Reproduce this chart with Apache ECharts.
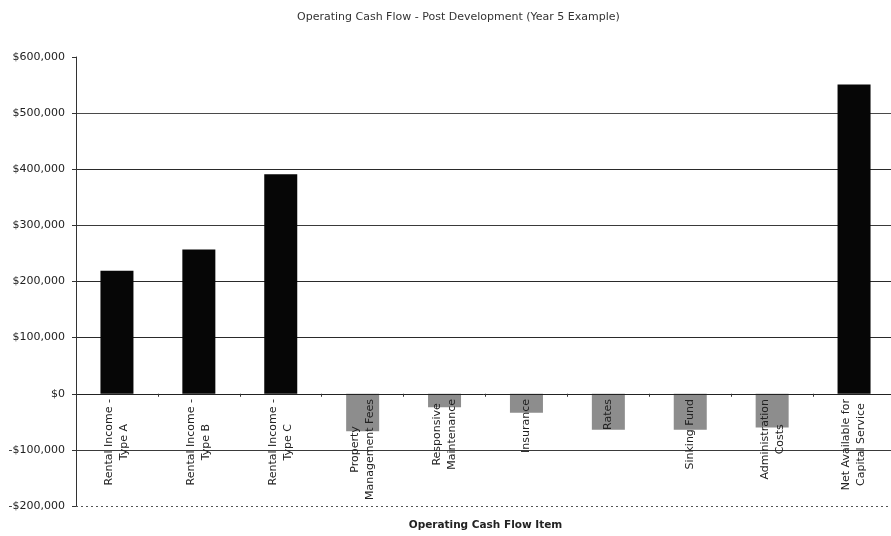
<!DOCTYPE html>
<html>
<head>
<meta charset="utf-8">
<title>Operating Cash Flow - Post Development (Year 5 Example)</title>
<script src="https://cdn.jsdelivr.net/npm/echarts@6/dist/echarts.min.js"></script>
<style>
  html, body { margin: 0; padding: 0; background: #ffffff; }
  #chart { width: 891px; height: 536px; }
</style>
</head>
<body>
<div id="chart"></div>
<script>
// Operating cash flow items (line breaks mark the wrapped axis labels)
const categories = [
  'Rental Income -\nType A',
  'Rental Income -\nType B',
  'Rental Income -\nType C',
  'Property\nManagement Fees',
  'Responsive\nMaintenance',
  'Insurance',
  'Rates',
  'Sinking Fund',
  'Administration\nCosts',
  'Net Available for\nCapital Service'
];

// Annual amounts in dollars (income positive, costs negative)
const cashFlow = [219000, 257000, 391000, -67000, -24000, -34000, -64000, -64000, -60000, 551000];

// Value axis range and step
const yMin = -200000;
const yMax = 600000;
const yStep = 100000;

const chartTitle = 'Operating Cash Flow - Post Development (Year 5 Example)';
const xAxisTitle = 'Operating Cash Flow Item';

function money(v) {
  const s = '$' + Math.abs(v).toLocaleString('en-US');
  return v < 0 ? '-' + s : s;
}

// one colour per gridline, from the bottom tick up
const gridColors = ['transparent', '#3a3a3a', 'transparent', '#2a2a2a', '#2a2a2a', '#3a3a3a', '#2a2a2a', '#4a4a4a', 'transparent'];

const chart = echarts.init(document.getElementById('chart'), null, { renderer: 'canvas' });

chart.setOption({
  animation: false,
  backgroundColor: '#ffffff',
  textStyle: { fontFamily: 'DejaVu Sans' },
  title: {
    text: chartTitle,
    left: 292,
    top: 7,
    textStyle: { fontFamily: 'DejaVu Sans', fontSize: 11, fontWeight: 'normal', color: '#333' }
  },
  grid: { left: 76, right: -4, top: 57, bottom: 30, containLabel: false, outerBoundsMode: 'none' },
  xAxis: {
    type: 'category',
    data: categories,
    z: 5,
    name: xAxisTitle,
    nameLocation: 'middle',
    nameGap: 14,
    nameTextStyle: { fontFamily: 'DejaVu Sans', fontSize: 10.5, fontWeight: 'bold', color: '#222' },
    axisLine: { onZero: true, lineStyle: { color: '#222', width: 1 } },
    axisTick: { show: true, length: 3, lineStyle: { color: '#333' } },
    axisLabel: {
      interval: 0,
      rotate: 90,
      // labels sit just under the zero line, which is 112px above the plot's lower edge
      margin: -107,
      color: '#222',
      fontSize: 11,
      formatter: v => v.split('\n').map(s => '{c|' + s + '}').join('\n'),
      rich: { c: { align: 'center', fontSize: 11, lineHeight: 15, color: '#222', fontFamily: 'DejaVu Sans' } }
    },
    splitLine: { show: false }
  },
  yAxis: {
    type: 'value',
    min: yMin,
    max: yMax,
    interval: yStep,
    axisLine: { show: true, lineStyle: { color: '#333', width: 1 } },
    axisTick: { show: true, length: 4, lineStyle: { color: '#333' } },
    axisLabel: { formatter: money, fontSize: 11, color: '#222', margin: 11, fontFamily: 'DejaVu Sans' },
    splitLine: { show: true, lineStyle: { color: gridColors, width: 1 } }
  },
  series: [{
    type: 'bar',
    data: cashFlow,
    barWidth: 33,
    itemStyle: {
      color: p => (p.value >= 0 ? '#060606' : '#8d8d8d')
    },
    markLine: {
      silent: true,
      symbol: 'none',
      label: { show: false },
      lineStyle: { color: '#555', type: [2, 3], width: 1 },
      data: [{ yAxis: yMin }]
    }
  }]
});
</script>
</body>
</html>
